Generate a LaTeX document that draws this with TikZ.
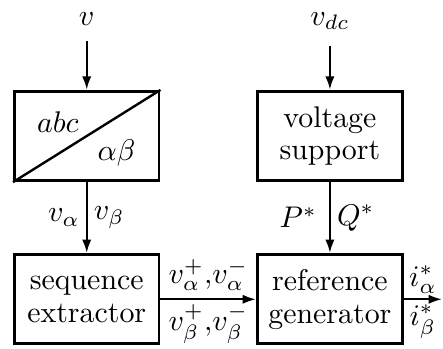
\documentclass[tikz,border=0pt]{standalone}
\usetikzlibrary{arrows.meta,positioning}

\begin{document}
\begin{tikzpicture}[
  font=\fontsize{10}{11}\selectfont,
  box/.style={draw=black,line width=1pt,align=center,
    minimum width=17mm,minimum height=10.5mm,inner sep=2pt},
  flow/.style={-{Latex[length=1.6mm,width=1.1mm]},draw=black,line width=0.8pt},
  signal/.style={inner sep=2pt}]
\useasboundingbox (0,0) rectangle (5.21,4.1);
\node[box] (clarke) at (1.02,2.5) {};
\node[box] (seq) at (1.02,0.58) {sequence\\extractor};
\node[box] (vsup) at (3.88,2.5) {voltage\\support};
\node[box] (refgen) at (3.88,0.58) {reference\\generator};
\draw[line width=0.8pt] (clarke.south west)--(clarke.north east);
\node (abc) at ([xshift=-3.4mm,yshift=1.6mm]clarke.center) {$abc$};
\node (ab) at ([xshift=3.5mm,yshift=-2mm]clarke.center) {$\alpha\beta$};

\node[anchor=base,inner sep=5pt] (vin) at (1.02,3.8) {$v$};
\node[anchor=base,inner sep=5pt] (vdc) at (3.88,3.8) {$v_{dc}$};
\coordinate (iout) at (5.2,0.58);

\draw[flow] (vin)--(clarke);
\draw[flow] (vdc)--(vsup);
\draw[flow] (clarke)--node[signal,left] (valpha) {$v_\alpha$}
  node[signal,right] (vbeta) {$v_\beta$}(seq);
\draw[flow] (vsup)--node[signal,left,inner sep=4pt] (pref) {$P^*$}
  node[signal,right] (qref) {$Q^*$}(refgen);
\draw[flow] (seq)--node[signal,above,inner sep=2.5pt] (vpm_a) {$v_\alpha^+{,}v_\alpha^-$}
  node[signal,below,inner sep=1.5pt] (vpm_b) {$v_\beta^+{,}v_\beta^-$}(refgen);
\draw[flow] (refgen.east)--node[signal,above,inner sep=1.5pt] (ia) {$i_\alpha^*$}
  node[signal,below,inner sep=1.5pt] (ib) {$i_\beta^*$}(iout);
\end{tikzpicture}
\end{document}
